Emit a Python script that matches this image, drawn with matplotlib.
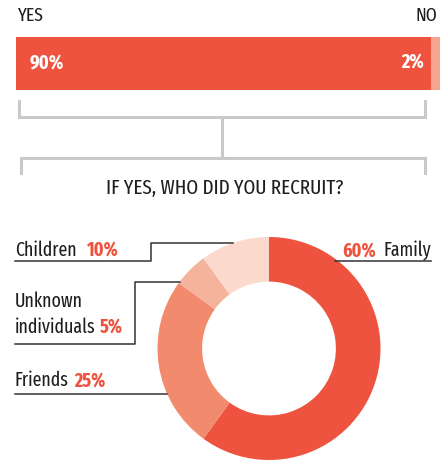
import matplotlib
matplotlib.use("Agg")
import matplotlib.pyplot as plt
from matplotlib import font_manager

# ---- data ----
bar_labels = ["YES", "NO"]
bar_values = [90, 2]
bar_colors = ["#EE533F", "#F5A58D"]

pie_labels = ["Family", "Friends", "Unknown\nindividuals", "Children"]
pie_values = [60, 25, 5, 10]
pie_colors = ["#EE533F", "#F28A6E", "#F5B39D", "#FCD9CD"]

title = "IF YES, WHO DID YOU RECRUIT?"

# ---- fonts ----
names = {f.name for f in font_manager.fontManager.ttflist}
FONT = next((n for n in ["Fira Sans Extra Condensed", "Fira Sans Condensed", "Roboto Condensed",
                         "PT Sans Narrow", "DejaVu Sans"] if n in names), "DejaVu Sans")
plt.rcParams["font.family"] = [FONT, "DejaVu Sans"]

W, H = 443, 462
fig = plt.figure(figsize=(W / 100, H / 100), dpi=100)
renderer = fig.canvas.get_renderer()

def fit(t, target_w, k=1.0):
    bb = t.get_window_extent(renderer=renderer)
    t.set_fontsize(t.get_fontsize() * k * target_w / bb.width)
    return t.get_fontsize()

def box(x0, y0, x1, y1):
    return [x0 / W, (H - y1) / H, (x1 - x0) / W, (y1 - y0) / H]

DARK = "#1E1E1E"
RED = "#EE533F"
GRAY = "#C9C9C9"

# ---- bar ----
bax = fig.add_axes(box(16, 37, 440, 90))
left = 0
for v, c in zip(bar_values, bar_colors):
    bax.barh(0, v, left=left, height=1, color=c, linewidth=0)
    left += v
bax.set_xlim(0, sum(bar_values))
bax.set_ylim(-0.5, 0.5)
bax.axis("off")

# ---- donut ----
cx, cy, R = 269, 348.5, 111.5
pax = fig.add_axes(box(cx - R, cy - R, cx + R, cy + R))
pax.pie(pie_values, colors=pie_colors, startangle=90, counterclock=False,
        wedgeprops=dict(width=0.4, linewidth=0))
pax.set_xlim(-1, 1)
pax.set_ylim(-1, 1)
pax.set_aspect("equal")
pax.axis("off")

# main overlay axes in pixel coordinates (drawn on top)
ax = fig.add_axes([0, 0, 1, 1])
ax.set_xlim(0, W)
ax.set_ylim(H, 0)
ax.axis("off")
ax.set_zorder(5)
ax.patch.set_visible(False)

t90 = ax.text(30, 68, f"{bar_values[0]}%", color="white", fontsize=14, fontweight="bold",
              ha="left", va="baseline")
bfs = fit(t90, 33, 1.04)
ax.text(424, 68, f"{bar_values[1]}%", color="white", fontsize=bfs,
        fontweight="bold", ha="right", va="baseline")

ty = ax.text(18, 21, bar_labels[0], fontsize=14, color=DARK, ha="left", va="baseline")
hfs = fit(ty, 24, 1.08)
ax.text(437, 21, bar_labels[1], fontsize=hfs, color=DARK, ha="right", va="baseline")

# ---- brackets ----
lw = 2.2
ax.plot([19, 19, 425, 425], [101, 117, 117, 101], color=GRAY, lw=lw, solid_joinstyle="miter")
ax.plot([222, 222], [117, 156], color=GRAY, lw=lw)
ax.plot([21, 21, 425, 425], [173, 158, 158, 173], color=GRAY, lw=lw, solid_joinstyle="miter")

tt = ax.text(225, 194, title, fontsize=14, color=DARK, ha="center", va="baseline")
fit(tt, 226, 1.05)

# ---- labels & leader lines ----
LC = "#333333"
llw = 1.1

probe = ax.text(0, 0, pie_labels[3], fontsize=14)
FS = fit(probe, 57, 1.08)
probe.remove()

def label(x, y, name, pct, gap=6):
    t = ax.text(x, y, name, fontsize=FS, color=DARK, ha="left", va="baseline")
    ax.annotate(f"{pct}%", xy=(1, 0), xycoords=t, xytext=(gap, 0), textcoords="offset pixels",
                fontsize=FS, color=RED, fontweight="bold", ha="left", va="bottom")
    return t

# Family (right side)
tf = ax.text(431, 256, pie_labels[0], fontsize=FS, color=DARK, ha="right", va="baseline")
ax.annotate(f"{pie_values[0]}%", xy=(0, 0), xycoords=tf, xytext=(-7, 0),
            textcoords="offset pixels", fontsize=FS, color=RED, fontweight="bold",
            ha="right", va="bottom")
ax.plot([335, 431], [260.5, 260.5], color=LC, lw=llw)

# Children
label(15, 255.5, pie_labels[3], pie_values[3], gap=9)
ax.plot([15, 151, 151, 233], [260.5, 260.5, 243, 243], color=LC, lw=llw)

# Unknown individuals
ax.text(15, 307, "Unknown", fontsize=FS, color=DARK, ha="left", va="baseline")
label(15, 333, "individuals", pie_values[2], gap=4)
ax.plot([15, 135, 135, 180], [344, 344, 282, 282], color=LC, lw=llw)

# Friends
label(15, 386.5, pie_labels[1], pie_values[1], gap=5)
ax.plot([15, 167], [394, 394], color=LC, lw=llw)

fig.savefig("out.png", dpi=100)
